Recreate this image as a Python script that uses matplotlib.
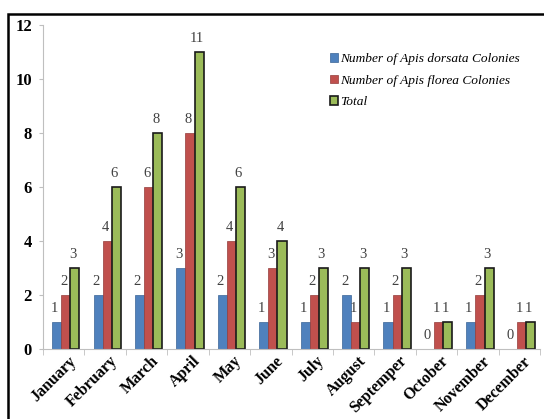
import numpy as np
import matplotlib
matplotlib.use("Agg")
import matplotlib.pyplot as plt
from matplotlib.patches import Rectangle

months = ["January", "February", "March", "April", "May", "June", "July",
          "August", "Septemper", "October", "November", "December"]
dorsata = [1, 2, 2, 3, 2, 1, 1, 2, 1, 0, 1, 0]
florea = [2, 4, 6, 8, 4, 3, 2, 1, 2, 1, 2, 1]
total = [3, 6, 8, 11, 6, 4, 3, 3, 3, 1, 3, 1]

series = [
    ("Number of Apis dorsata Colonies", dorsata, "#4F81BD", "#3A6496"),
    ("Number of Apis florea Colonies", florea, "#C0504D", "#943C3A"),
    ("Total", total, "#9BBB59", "#1A1A1A"),
]

plt.rcParams["font.family"] = "Liberation Serif"

fig = plt.figure(figsize=(5.44, 4.19), dpi=100)
ax = fig.add_axes([43 / 544, 1 - 349 / 419, 497 / 544, 324 / 419])

# outer frame of the chart area
fig.patches.append(Rectangle((8 / 544, -0.2), 1.2, 1.2 - 14 / 419,
                             transform=fig.transFigure, fill=False,
                             edgecolor="black", linewidth=1.8))

x = np.arange(len(months))
w = 0.22
for i, (name, vals, color, edge) in enumerate(series):
    pos = x + (i - 1) * w + 0.05
    lw = 1.2 if i == 2 else 0.5
    bars = ax.bar(pos, vals, width=w, color=color, edgecolor=edge,
                  linewidth=lw, label=name)
    for b, v in zip(bars, vals):
        ax.text(b.get_x() + b.get_width() / 2 - 0.05, v + 0.25, str(v),
                ha="center", va="bottom", fontsize=10.5, color="#404040")

ax.set_xlim(-0.5, len(months) - 0.5)
ax.set_ylim(0, 12)
ax.set_yticks(range(0, 13, 2))
ax.set_yticklabels([str(t) for t in range(0, 13, 2)], fontsize=12,
                   fontweight="bold")
ax.set_xticks(x + 0.1)
ax.set_xticklabels(months, rotation=45, ha="right", rotation_mode="anchor",
                   fontsize=11.5, fontweight="bold")
ax.set_xticks(np.arange(-0.5, len(months)), minor=True)
ax.tick_params(axis="x", which="major", length=0, pad=3)
ax.tick_params(axis="x", which="minor", length=4, color="#BFBFBF")
ax.tick_params(axis="y", length=3, color="#BFBFBF", pad=5)

for s in ["top", "right"]:
    ax.spines[s].set_visible(False)
for s in ["left", "bottom"]:
    ax.spines[s].set_color("#BFBFBF")

leg = ax.legend(loc="upper left", bbox_to_anchor=(0.553, 0.95), frameon=False,
                prop={"family": "Liberation Serif", "style": "italic",
                      "size": 9.6},
                handlelength=0.6, handleheight=0.6, handletextpad=0.2,
                labelspacing=0.72)

fig.savefig("out.png", dpi=100)
